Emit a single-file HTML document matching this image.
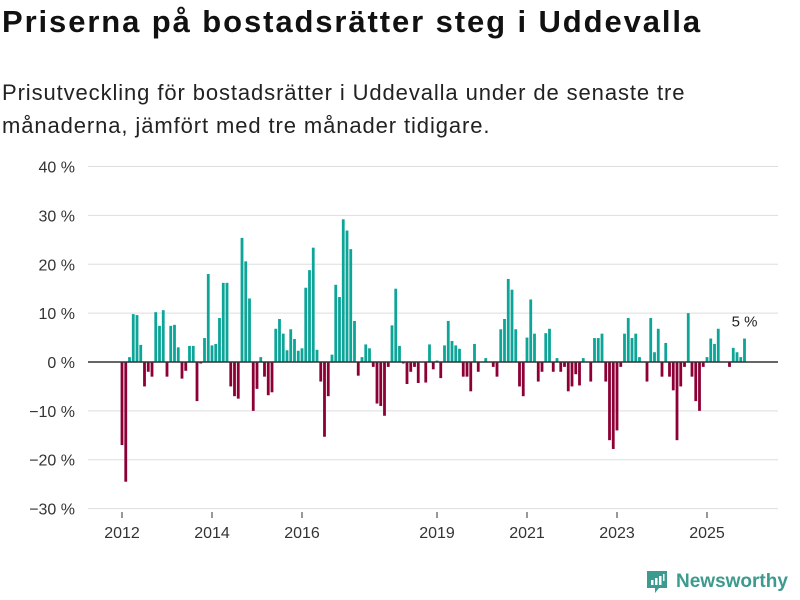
<!DOCTYPE html>
<html><head><meta charset="utf-8"><style>
body{margin:0;background:#fff;width:800px;height:600px;overflow:hidden;font-family:"Liberation Sans",sans-serif;}
</style></head><body>
<div style="position:absolute;left:2px;top:4px;font-size:31px;font-weight:bold;color:#111;letter-spacing:1.9px;white-space:nowrap;">Priserna på bostadsrätter steg i Uddevalla</div>
<div style="position:absolute;left:2px;top:76px;width:790px;font-size:22px;letter-spacing:0.9px;line-height:33px;color:#222;white-space:nowrap;">Prisutveckling för bostadsrätter i Uddevalla under de senaste tre<br>månaderna, jämfört med tre månader tidigare.</div>
<svg id="chart" width="800" height="600" style="position:absolute;left:0;top:0"></svg>
<div style="position:absolute;left:645px;top:569px;display:flex;align-items:center;">
<svg width="24" height="26"><path d="M2 2h20v17h-8l-4 5v-5H2z" fill="#3d9a8f"/><rect x="6" y="11" width="2.5" height="5" fill="#fff"/><rect x="10" y="9" width="2.5" height="7" fill="#fff"/><rect x="14" y="7" width="2.5" height="9" fill="#fff"/><rect x="18" y="5" width="1.5" height="7" fill="#fff"/></svg>
<span style="font-size:19px;color:#3d9a8f;margin-left:7px;font-weight:bold;">Newsworthy</span></div>
<script>
const yTicks=[-30,-20,-10,0,10,20,30,40];
const xTickYears=[2012,2014,2016,2019,2021,2023,2025];
const startYear=2012;
const values=[
-17,-24.5,1,9.8,9.6,3.5,-5,-2,-3,10.2,7.4,10.6,
-3,7.4,7.6,3,-3.4,-1.8,3.3,3.3,-8,-0.3,4.9,18,
3.4,3.7,9,16.2,16.2,-5,-7,-7.5,25.4,20.6,13,-10,
-5.5,1,-3,-6.8,-6.2,6.8,8.8,5.8,2.4,6.7,4.7,2.3,
2.8,15.2,18.8,23.4,2.5,-4,-15.3,-7,1.5,15.8,13.3,29.2,
26.9,23.1,8.4,-2.8,1,3.6,2.8,-1,-8.5,-9,-11,-1,
7.5,15,3.3,-0.3,-4.5,-2,-1,-4.3,0,-4.2,3.6,-1.5,
0.3,-3.3,3.4,8.4,4.3,3.4,2.7,-3,-3,-6,3.7,-2,
0,0.8,0,-1,-3,6.7,8.8,17,14.8,6.7,-5,-7,
5,12.8,5.8,-4,-2,5.9,6.8,-2,0.8,-2,-1,-6,
-5,-2.5,-4.8,0.8,0,-4,4.9,4.9,5.8,-4,-16,-17.8,
-14,-1,5.8,9,4.9,5.8,1,0,-4,9,2,6.8,
-3,3.9,-3,-5.8,-16,-5,-1,10,-3,-8,-10,-1,
1,4.8,3.7,6.8,0,0,-1,2.9,2,1,4.8];
const lastLabel="5 %";
const NS="http://www.w3.org/2000/svg";
const svg=document.getElementById('chart');
const x0=122,pxYear=45;
function xScale(i){return x0+i*pxYear/12;}
function yScale(v){return 362-v*4.886;}
function mk(t,a){const e=document.createElementNS(NS,t);for(const k in a)e.setAttribute(k,a[k]);svg.appendChild(e);return e;}
yTicks.forEach(t=>{
 if(t!==0){const l=mk('line',{x1:88,x2:778,y1:yScale(t),y2:yScale(t),stroke:'#dedede','stroke-width':1});
 
 }
 const tx=mk('text',{x:75,y:yScale(t)+6,'text-anchor':'end','font-size':16,fill:'#333','font-family':'Liberation Sans, sans-serif'});
 tx.textContent=(t<0?'\u2212'+(-t):t)+' %';
 
 
});
values.forEach((v,i)=>{
 const y=Math.min(yScale(v),yScale(0)),h=Math.abs(yScale(v)-yScale(0));
 const r=mk('rect',{x:xScale(i)-1.4,y:y,width:2.8,height:Math.max(h,0.01),fill:v>=0?'#0ca597':'#8c0035'});
 
 
});
const z=mk('line',{x1:88,x2:778,y1:yScale(0),y2:yScale(0),stroke:'#333','stroke-width':1.5});


xTickYears.forEach(yr=>{
 const xx=xScale((yr-startYear)*12);
 const tk=mk('line',{x1:xx,x2:xx,y1:512,y2:518,stroke:'#333'});
 
 
 const tx=mk('text',{x:xx,y:538,'text-anchor':'middle','font-size':16,fill:'#333','font-family':'Liberation Sans, sans-serif'});
 tx.textContent=yr;
 
 
});
const li=values.length-1;
const lb=mk('text',{x:xScale(li),y:yScale(values[li])-12,'text-anchor':'middle','font-size':15,fill:'#222','font-family':'Liberation Sans, sans-serif'});
lb.textContent=lastLabel;


</script>
</body></html>
